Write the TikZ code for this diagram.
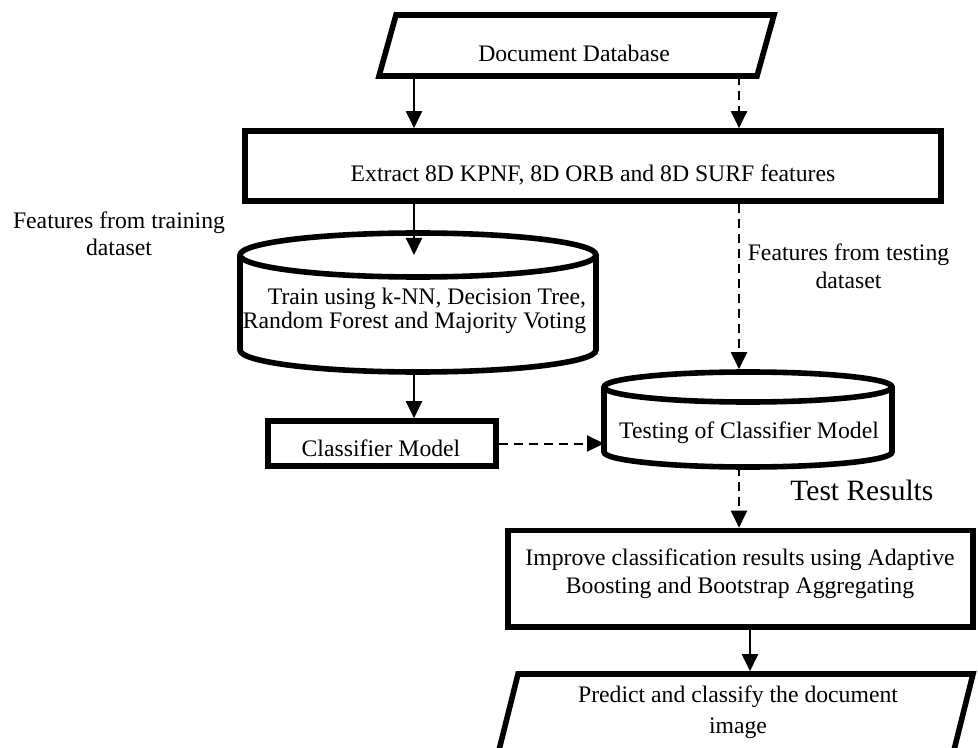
\documentclass[tikz,border=0pt]{standalone}
\usepackage{fontspec}
\setmainfont{Liberation Serif}
\usetikzlibrary{arrows.meta,positioning}

\begin{document}
\begin{tikzpicture}[x=0.5pt,y=-0.5pt,
  font=\fontsize{11.85}{14}\selectfont,
  >={Triangle[length=8.5pt,width=8pt]},
  boxline/.style={line width=2.8pt,black},
  shell/.style={inner sep=0pt,outer sep=0pt},
  procbox/.style={draw,boxline,fill=white,inner sep=0pt},
  txt/.style={inner sep=0pt,align=center},
  flow/.style={->,line width=1pt},
  dflow/.style={flow,dash pattern=on 4.5pt off 3pt}]

  \useasboundingbox (0,0) rectangle (978,748);
  \clip (0,0) rectangle (978,748);
  \fill[white] (0,0) rectangle (978,748);

  \def\ddbslant{4.25pt}  % half slant, document database
  \def\preslant{5pt}     % half slant, predict box

  % ---- shapes ----
  \node[shell,minimum width=189pt,minimum height=30.5pt] (ddb) at (576.5,45.5) {};
  \node[procbox,minimum width=348pt,minimum height=35pt] (ext) at (593,166) {};
  \node[shell,minimum width=178pt,minimum height=69.5pt] (train) at (418,302.5) {};
  \node[procbox,minimum width=114pt,minimum height=22.5pt] (cls) at (382,443.5) {};
  \node[shell,minimum width=144pt,minimum height=47.5pt] (test) at (748,419.5) {};
  \node[procbox,minimum width=232.5pt,minimum height=48.25pt] (imp) at (740.5,578.75) {};
  \node[shell,minimum width=227.5pt,minimum height=40pt] (pre) at (735.5,714) {};

  % ---- slanted outlines ----
  \draw[boxline,fill=white] ([xshift=\ddbslant]ddb.north west) -- ([xshift=\ddbslant]ddb.north east)
        -- ([xshift=-\ddbslant]ddb.south east) -- ([xshift=-\ddbslant]ddb.south west) -- cycle;
  \draw[boxline,fill=white] ([xshift=\preslant]pre.north west) -- ([xshift=\preslant]pre.north east)
        -- ([xshift=-\preslant]pre.south east) -- ([xshift=-\preslant]pre.south west) -- cycle;

  % ---- cylinders ----
  \draw[boxline,fill=white] ([yshift=-11pt]train.north west) -- ([yshift=11pt]train.south west)
        arc[start angle=180,end angle=360,x radius=89pt,y radius=11pt]
        -- ([yshift=-11pt]train.north east)
        arc[start angle=0,end angle=180,x radius=89pt,y radius=11pt] -- cycle;
  \draw[boxline] ([yshift=-11pt]train.north west)
        arc[start angle=180,end angle=360,x radius=89pt,y radius=11pt];
  \draw[boxline,fill=white] ([yshift=-7.5pt]test.north west) -- ([yshift=7.5pt]test.south west)
        arc[start angle=180,end angle=360,x radius=72pt,y radius=7.5pt]
        -- ([yshift=-7.5pt]test.north east)
        arc[start angle=0,end angle=180,x radius=72pt,y radius=7.5pt] -- cycle;
  \draw[boxline] ([yshift=-7.5pt]test.north west)
        arc[start angle=180,end angle=360,x radius=72pt,y radius=7.5pt];

  % ---- texts ----
  \node[txt] (ddbtext) at (574,53) {Document Database};
  \node[txt] (exttext) at (593,175) {Extract 8D KPNF, 8D ORB and 8D SURF features};
  \node[txt,align=right,font=\fontsize{11.85}{12}\selectfont] (traintext) at (414.5,311)
        {Train using k-NN, Decision Tree,\\Random Forest and Majority Voting};
  \node[txt] (clstext) at (381,448) {Classifier Model};
  \node[txt] (testtext) at (749,433) {Testing of Classifier Model};
  \node[txt] (imptext) at (740,574)
        {Improve classification results using Adaptive\\Boosting and Bootstrap Aggregating};
  \node[txt,font=\fontsize{11.85}{15.5}\selectfont] (pretext) at (738,712.5)
        {Predict and classify the document\\image};
  \node[txt,font=\fontsize{11.85}{13.5}\selectfont] (trainlbl) at (119,233.5)
        {Features from training\\dataset};
  \node[txt] (testlbl) at (848.5,266) {Features from testing\\dataset};
  \node[txt,anchor=west,font=\fontsize{14.75}{17}\selectfont] (reslbl) at (790,490) {Test Results};

  % ---- connectors ----
  \coordinate (lcol) at (414,0);
  \coordinate (rcol) at (739,0);
  \coordinate (pcol) at (750,0);
  \coordinate (trainmid) at ([yshift=-11pt]train.north);

  \draw[flow] (ddb.south -| lcol) -- (ext.north -| lcol);
  \draw[dflow] (ddb.south -| rcol) -- (ext.north -| rcol);
  \draw[flow] (ext.south -| lcol) -- (trainmid -| lcol);
  \draw[flow] (train.south -| lcol) -- (cls.north -| lcol);
  \draw[dflow] (cls.east) -- (cls.east -| test.west);
  \draw[dflow,shorten >=1.4pt] (ext.south -| rcol) -- (test.north -| rcol);
  \draw[dflow] (test.south -| rcol) -- (imp.north -| rcol);
  \draw[flow,shorten >=1.4pt] (imp.south -| pcol) -- (pre.north -| pcol);

\end{tikzpicture}
\end{document}
